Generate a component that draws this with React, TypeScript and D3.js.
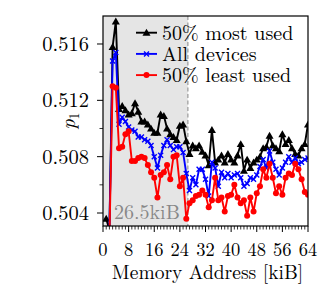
import React from "react";
import * as d3 from "d3";

const addresses = d3.range(1, 65);

const mostUsed = [
  0.5036, 0.5028, 0.5158, 0.5176, 0.5114, 0.5116, 0.5113, 0.5110, 0.5111, 0.5118,
  0.5112, 0.5105, 0.5105, 0.5103, 0.5100, 0.5097, 0.5097, 0.5110, 0.5109, 0.5100,
  0.5096, 0.5094, 0.5092, 0.5102, 0.5103, 0.5091, 0.5082, 0.5088, 0.5086, 0.5088,
  0.50835, 0.5081, 0.5074, 0.5099, 0.5076, 0.5078, 0.5081, 0.5076, 0.5082, 0.5078,
  0.5076, 0.5081, 0.5089, 0.5070, 0.5078, 0.5072, 0.5076, 0.5078, 0.5080, 0.5086,
  0.5087, 0.5095, 0.5088, 0.5086, 0.5084, 0.5096, 0.5089, 0.5092, 0.5086, 0.5082,
  0.5081, 0.5086, 0.5089, 0.5103,
];

const allDevices = [
  0.5025, 0.5028, 0.5148, 0.5154, 0.5103, 0.5108, 0.5105, 0.5101, 0.5099, 0.5098,
  0.5094, 0.5094, 0.5092, 0.5091, 0.5088, 0.5080, 0.5072, 0.5081, 0.5088, 0.5092,
  0.5088, 0.5085, 0.5087, 0.5087, 0.5083, 0.5068, 0.5056, 0.5065, 0.5060, 0.5071,
  0.5071, 0.5064, 0.5052, 0.5076, 0.5072, 0.5059, 0.5069, 0.5065, 0.5068, 0.5065,
  0.5067, 0.5068, 0.5065, 0.5059, 0.5061, 0.5065, 0.5064, 0.5067, 0.5073, 0.5078,
  0.5072, 0.5084, 0.5076, 0.5071, 0.5067, 0.5072, 0.5076, 0.5080, 0.5076, 0.5079,
  0.5075, 0.5076, 0.5078, 0.5079,
];

const leastUsed = [
  0.5020, 0.5022, 0.5130, 0.5129, 0.5086, 0.5087, 0.5096, 0.5098, 0.5077, 0.5077,
  0.5079, 0.5080, 0.5079, 0.5074, 0.5069, 0.5065, 0.5051, 0.5067, 0.5069, 0.5074,
  0.5064, 0.5080, 0.5081, 0.5059, 0.5065, 0.5036, 0.5047, 0.5049, 0.5052, 0.5053,
  0.5056, 0.5053, 0.5044, 0.5049, 0.5065, 0.5049, 0.5051, 0.5041, 0.5052, 0.5053,
  0.5060, 0.5051, 0.5047, 0.5049, 0.5038, 0.5051, 0.5041, 0.5054, 0.5059, 0.5071,
  0.5065, 0.5075, 0.5065, 0.5054, 0.5059, 0.5053, 0.5065, 0.5068, 0.5067, 0.5075,
  0.5071, 0.5064, 0.5055, 0.5053,
];

const seriesNames = ["50% most used", "All devices", "50% least used"];
const seriesColors = ["#000000", "#0000ff", "#ff0000"];
const seriesMarkers = ["triangle", "x", "circle"];
const xTicks = [0, 8, 16, 24, 32, 40, 48, 56, 64];
const yTicks = [0.504, 0.508, 0.512, 0.516];
const yMinorTicks = [0.506, 0.51, 0.514];
const shadeEnd = 26.5;
const shadeLabel = "26.5kiB";

const W = 334;
const H = 304;
const L = 103, R = 308, T = 16, B = 226;
const FONT = '"Latin Modern Roman", "Liberation Serif", Times, serif';

function Marker({ kind, x, y, color }: { kind: string; x: number; y: number; color: string }) {
  if (kind === "triangle") {
    const p = d3.symbol(d3.symbolTriangle, 28)();
    return <path d={p as string} transform={`translate(${x},${y + 0.8})`} fill={color} />;
  }
  if (kind === "x") {
    const s = 2.5;
    return (
      <path
        d={`M${x - s},${y - s}L${x + s},${y + s}M${x - s},${y + s}L${x + s},${y - s}`}
        stroke={color}
        strokeWidth={1.4}
        fill="none"
      />
    );
  }
  return <circle cx={x} cy={y} r={3} fill={color} />;
}

export default function App() {
  const x = d3.scaleLinear().domain([0, 64]).range([L, R]);
  const y = d3.scaleLinear().domain([0.503077, 0.517988]).range([B, T]);
  const series = [mostUsed, allDevices, leastUsed];
  const line = d3
    .line<number>()
    .x((_, i) => x(addresses[i]))
    .y((d) => y(d));
  const xMinor = d3.range(0, 65, 1);
  const ts = { fontFamily: FONT, fontSize: "20px" };
  const tsX = { fontFamily: FONT, fontSize: "18.5px" };
  const tsY = { fontFamily: FONT, fontSize: "20.5px" };
  const tsLab = { fontFamily: FONT, fontSize: "19.5px" };

  return (
    <svg
      width={W}
      height={H}
      style={{ position: "absolute", left: 0, top: 0, background: "#fff", fontFamily: FONT }}
    >
      <defs>
        <clipPath id="plot">
          <rect x={L} y={T} width={R - L} height={B - T} />
        </clipPath>
      </defs>
      <rect x={x(0)} y={T} width={x(shadeEnd) - x(0)} height={B - T} fill="#e5e5e5" />
      <line
        x1={x(shadeEnd)}
        x2={x(shadeEnd)}
        y1={T}
        y2={B}
        stroke="#999"
        strokeWidth={1.2}
        strokeDasharray="4,2.5"
      />
      <text x={x(0) + 11} y={B - 7} style={ts} fill="#888">
        {shadeLabel}
      </text>
      <g clipPath="url(#plot)">
        {series.map((s, si) => (
          <g key={si}>
            <path d={line(s) as string} fill="none" stroke={seriesColors[si]} strokeWidth={1.9} strokeLinejoin="round" />
            {s.map((v, i) => (
              <Marker key={i} kind={seriesMarkers[si]} x={x(addresses[i])} y={y(v)} color={seriesColors[si]} />
            ))}
          </g>
        ))}
      </g>
      <rect x={L} y={T} width={R - L} height={B - T} fill="none" stroke="#000" strokeWidth={1.2} />
      {yTicks.map((t) => (
        <g key={t}>
          <line x1={L - 6} x2={L} y1={y(t)} y2={y(t)} stroke="#000" strokeWidth={1} />
          <text x={L - 14} y={y(t) + 7} style={tsY} textAnchor="end">
            {t.toFixed(3)}
          </text>
        </g>
      ))}
      {yMinorTicks.map((t) => (
        <line key={t} x1={L - 3.5} x2={L} y1={y(t)} y2={y(t)} stroke="#000" strokeWidth={0.8} />
      ))}
      {xMinor.map((t) => (
        <line
          key={t}
          x1={x(t)}
          x2={x(t)}
          y1={B}
          y2={B + (t % 8 === 0 ? 6 : 3.5)}
          stroke="#000"
          strokeWidth={t % 8 === 0 ? 1 : 0.8}
        />
      ))}
      {xTicks.map((t) => (
        <text key={t} x={x(t)} y={B + 29.5} style={tsX} textAnchor="middle">
          {t}
        </text>
      ))}
      <text x={(L + R) / 2 + 2} y={B + 53} style={tsLab} textAnchor="middle">
        Memory Address [kiB]
      </text>
      <text transform={`translate(${75},${(T + B) / 2}) rotate(-90)`} style={ts} textAnchor="middle">
        <tspan fontStyle="italic">p</tspan>
        <tspan style={{ fontSize: "14px" }} dy={4}>1</tspan>
      </text>
      {seriesNames.map((n, i) => {
        const cy = 32.7 + i * 21.2;
        return (
          <g key={n}>
            <line x1={136} x2={157} y1={cy} y2={cy} stroke={seriesColors[i]} strokeWidth={1.9} />
            <Marker kind={seriesMarkers[i]} x={146.5} y={cy} color={seriesColors[i]} />
            <text x={162} y={cy + 7} style={ts}>
              {n}
            </text>
          </g>
        );
      })}
    </svg>
  );
}
